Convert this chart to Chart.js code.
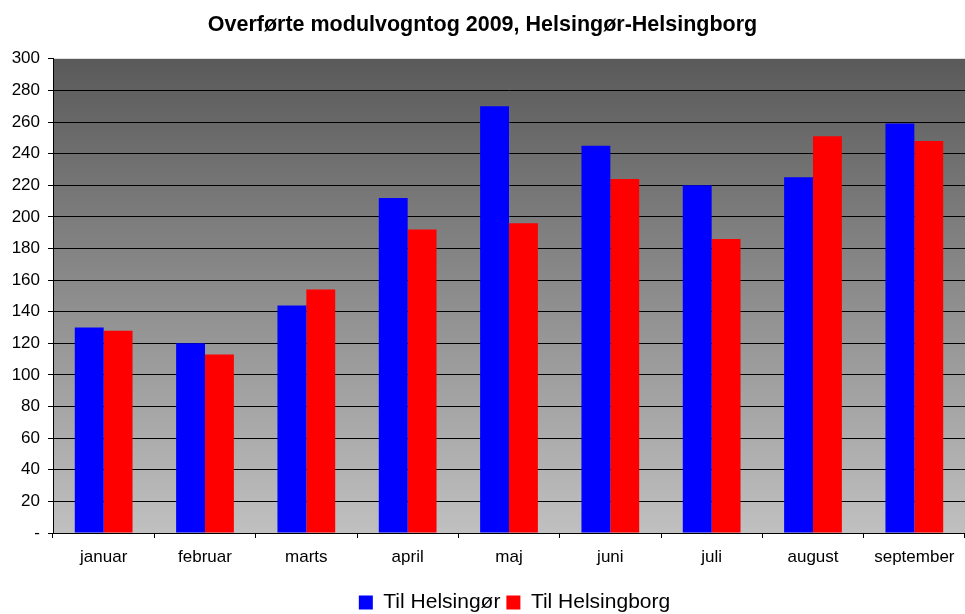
<!DOCTYPE html>
<html>
<head>
<meta charset="utf-8">
<script src="https://cdn.jsdelivr.net/npm/chart.js@4"></script>
<style>
html,body{margin:0;padding:0;background:#fff;}
#wrap{width:965px;height:614px;position:relative;}
</style>
</head>
<body>
<div id="wrap"><canvas id="c" width="965" height="614"></canvas></div>
<script>
const categories = ['januar','februar','marts','april','maj','juni','juli','august','september'];
const tilHelsingor = [130, 120, 144, 212, 270, 245, 220, 225, 259];
const tilHelsingborg = [128, 113, 154, 192, 196, 224, 186, 251, 248];
const seriesNames = ['Til Helsingør', 'Til Helsingborg'];
const titleText = 'Overførte modulvogntog 2009, Helsingør-Helsingborg';

const FONT = "'Liberation Sans', Arial, sans-serif";

const bgPlugin = {
  id: 'bgGrad',
  beforeDraw(chart) {
    const {ctx, chartArea: a} = chart;
    const g = ctx.createLinearGradient(0, a.top, 0, a.bottom);
    g.addColorStop(0, '#5a5a5a');
    g.addColorStop(1, '#c0c0c0');
    ctx.save();
    ctx.fillStyle = g;
    ctx.fillRect(a.left, a.top, a.right - a.left, a.bottom - a.top);
    ctx.restore();
  }
};
const legendShift = {
  id: 'legendShift',
  afterLayout(chart) {
    const l = chart.legend;
    if (l) { l.left = 32; l.right = 965 + 32; }
  }
};

new Chart(document.getElementById('c'), {
  type: 'bar',
  data: {
    labels: categories,
    datasets: [
      { label: seriesNames[0], data: tilHelsingor, backgroundColor: '#0000ff', borderWidth: 0 },
      { label: seriesNames[1], data: tilHelsingborg, backgroundColor: '#ff0000', borderWidth: 0 }
    ]
  },
  options: {
    responsive: false,
    animation: false,
    devicePixelRatio: 1,
    layout: { padding: { left: 0, right: 0, top: 0, bottom: 0 } },
    datasets: { bar: { categoryPercentage: 0.57, barPercentage: 1.0 } },
    plugins: {
      tooltip: { enabled: false },
      title: {
        display: true,
        text: titleText,
        color: '#000',
        font: { family: FONT, size: 21.5, weight: 'bold' },
        padding: { top: 12, bottom: 21 }
      },
      legend: {
        position: 'bottom',
        maxHeight: 28,
        labels: {
          color: '#000',
          font: { family: FONT, size: 21 },
          boxWidth: 14,
          boxHeight: 14,
          padding: 6
        }
      }
    },
    scales: {
      x: {
        afterFit(s) { s.height = 53; },
        border: { display: true, color: '#000', width: 1 },
        grid: { display: true, drawOnChartArea: false, color: '#000', tickLength: 5, offset: true },
        ticks: { color: '#000', font: { family: FONT, size: 17 }, padding: 9, maxRotation: 0 }
      },
      y: {
        min: 0, max: 300,
        afterFit(s) { s.width = 53; },
        border: { display: true, color: '#000', width: 1 },
        grid: {
          color: (c) => (c.tick && c.tick.value === 300) ? 'rgba(0,0,0,0)' : '#000',
          lineWidth: 1,
          tickLength: 5,
          tickColor: '#000'
        },
        ticks: {
          stepSize: 20,
          color: '#000',
          font: { family: FONT, size: 17 },
          padding: 8,
          callback: (v) => v === 0 ? '-' : String(v)
        }
      }
    }
  },
  plugins: [bgPlugin, legendShift]
});
</script>
</body>
</html>
